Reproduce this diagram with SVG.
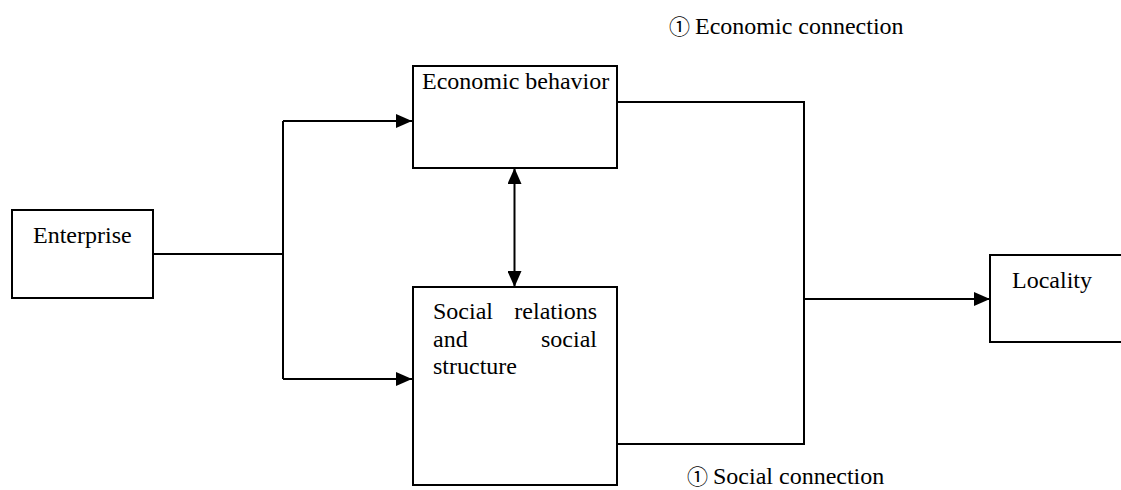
<svg xmlns="http://www.w3.org/2000/svg" width="1121" height="490" viewBox="0 0 1121 490">
  <style>
    .box { fill: #ffffff; stroke: #000000; stroke-width: 2; }
    .wire { fill: none; stroke: #000000; stroke-width: 2; }
    .label { font-family: "Liberation Serif", "Times New Roman", serif; font-size: 24px; fill: #000000; }
    .num { font-family: "Noto Sans CJK SC", "DejaVu Sans", sans-serif; font-size: 21px; fill: #000000; }
  </style>
  <defs>
    <marker id="arrow" viewBox="0 0 16 14" refX="16" refY="7" markerWidth="16" markerHeight="14" markerUnits="userSpaceOnUse" orient="auto-start-reverse">
      <path d="M0,0 L16,7 L0,14 Z" fill="#000000"/>
    </marker>
  </defs>

  <rect width="1121" height="490" fill="#ffffff"/>

  <!-- connectors -->
  <g id="connectors">
    <!-- Enterprise to the branching trunk -->
    <polyline class="wire" points="153,254 283,254"/>
    <polyline class="wire" points="283,121 283,379"/>
    <polyline class="wire" points="283,121 412,121" marker-end="url(#arrow)"/>
    <polyline class="wire" points="283,379 412,379" marker-end="url(#arrow)"/>
    <!-- two-way link between the middle boxes -->
    <line class="wire" x1="514.5" y1="168" x2="514.5" y2="287" marker-start="url(#arrow)" marker-end="url(#arrow)"/>
    <!-- outputs merging toward Locality -->
    <polyline class="wire" points="617,102 804,102 804,444 617,444"/>
    <polyline class="wire" points="804,299 990,299" marker-end="url(#arrow)"/>
  </g>

  <g id="enterprise">
    <rect class="box" x="12" y="210" width="141" height="88"/>
    <text class="label" x="33" y="243">Enterprise</text>
  </g>

  <g id="economic-behavior">
    <rect class="box" x="413" y="66" width="204" height="102"/>
    <text class="label" x="422" y="89">Economic behavior</text>
  </g>

  <g id="social-relations">
    <rect class="box" x="413" y="287" width="204" height="198"/>
    <text class="label" y="319"><tspan x="433">Social</tspan><tspan x="597" text-anchor="end">relations</tspan></text>
    <text class="label" y="347"><tspan x="433">and</tspan><tspan x="597" text-anchor="end">social</tspan></text>
    <text class="label" x="433" y="374">structure</text>
  </g>

  <g id="locality">
    <rect class="box" x="990" y="255" width="140" height="87"/>
    <text class="label" x="1012" y="288">Locality</text>
  </g>

  <g id="economic-connection">
    <text x="669" y="34"><tspan class="num">①</tspan><tspan class="label" dx="5">Economic connection</tspan></text>
  </g>

  <g id="social-connection">
    <text x="687" y="484"><tspan class="num">①</tspan><tspan class="label" dx="5">Social connection</tspan></text>
  </g>
</svg>
